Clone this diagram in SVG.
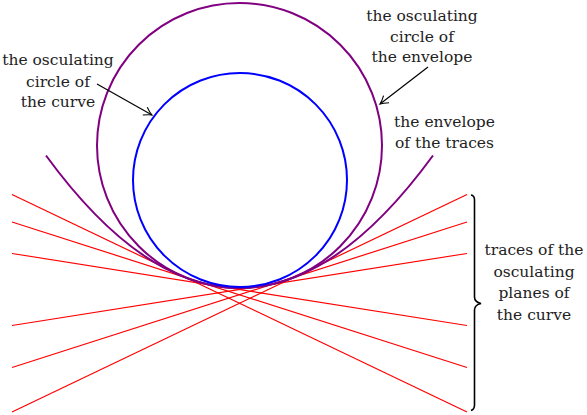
<svg xmlns="http://www.w3.org/2000/svg" width="587" height="415" viewBox="0 0 587 415">
<style>
text{font-family:'DejaVu Serif','Liberation Serif',serif;font-size:15.5px;fill:#222;text-anchor:middle}
.red{stroke:#ff0000;stroke-width:1.2;fill:none}
.arr{stroke:#000;stroke-width:1.2;fill:none;marker-end:url(#ah)}
</style>
<defs>
<marker id="ah" viewBox="-10 -6 12 12" refX="0" refY="0" markerWidth="12" markerHeight="12" markerUnits="userSpaceOnUse" orient="auto">
<path d="M-8,-4.5 Q-3,-1 0,0 Q-3,1 -8,4.5" fill="none" stroke="#000" stroke-width="1.1"/>
</marker>
</defs>
<g id="traces">
<line class="red" x1="12" y1="194.5" x2="467" y2="412"/>
<line class="red" x1="12" y1="222" x2="467" y2="367.5"/>
<line class="red" x1="12" y1="253.5" x2="467" y2="325.5"/>
<line class="red" x1="12" y1="325.5" x2="467" y2="253.5"/>
<line class="red" x1="12" y1="367.5" x2="467" y2="222"/>
<line class="red" x1="12" y1="412" x2="467" y2="194.5"/>
</g>
<g id="envelope">
<path d="M46,155.5 Q239.5,420.5 433,155.5" fill="none" stroke="#800080" stroke-width="2"/>
</g>
<g id="envelope-circle">
<circle cx="239.5" cy="145.5" r="142.5" fill="none" stroke="#800080" stroke-width="2"/>
</g>
<g id="curve-circle">
<circle cx="240" cy="180" r="107" fill="none" stroke="#0000ff" stroke-width="2"/>
</g>
<g id="connectors">
<line class="arr" x1="97" y1="84" x2="152" y2="115"/>
<line class="arr" x1="428" y1="67" x2="380" y2="104"/>
<path d="M471,195 Q474.5,195.5 474.5,200 L474.5,297 Q474.5,302 481,303.5 Q474.5,305 474.5,310 L474.5,405 Q474.5,409.5 471,410.5" fill="none" stroke="#000" stroke-width="1.6"/>
</g>
<g id="label-curve-circle">
<text x="58" y="65">the osculating</text>
<text x="58" y="86.5">circle of</text>
<text x="58" y="107">the curve</text>
</g>
<g id="label-envelope-circle">
<text x="422" y="21">the osculating</text>
<text x="422" y="41.5">circle of</text>
<text x="422" y="62">the envelope</text>
</g>
<g id="label-envelope">
<text x="444.5" y="127">the envelope</text>
<text x="444.5" y="148">of the traces</text>
</g>
<g id="label-traces">
<text x="534" y="255">traces of the</text>
<text x="534" y="276.5">osculating</text>
<text x="534" y="298">planes of</text>
<text x="534" y="319.5">the curve</text>
</g>
</svg>
